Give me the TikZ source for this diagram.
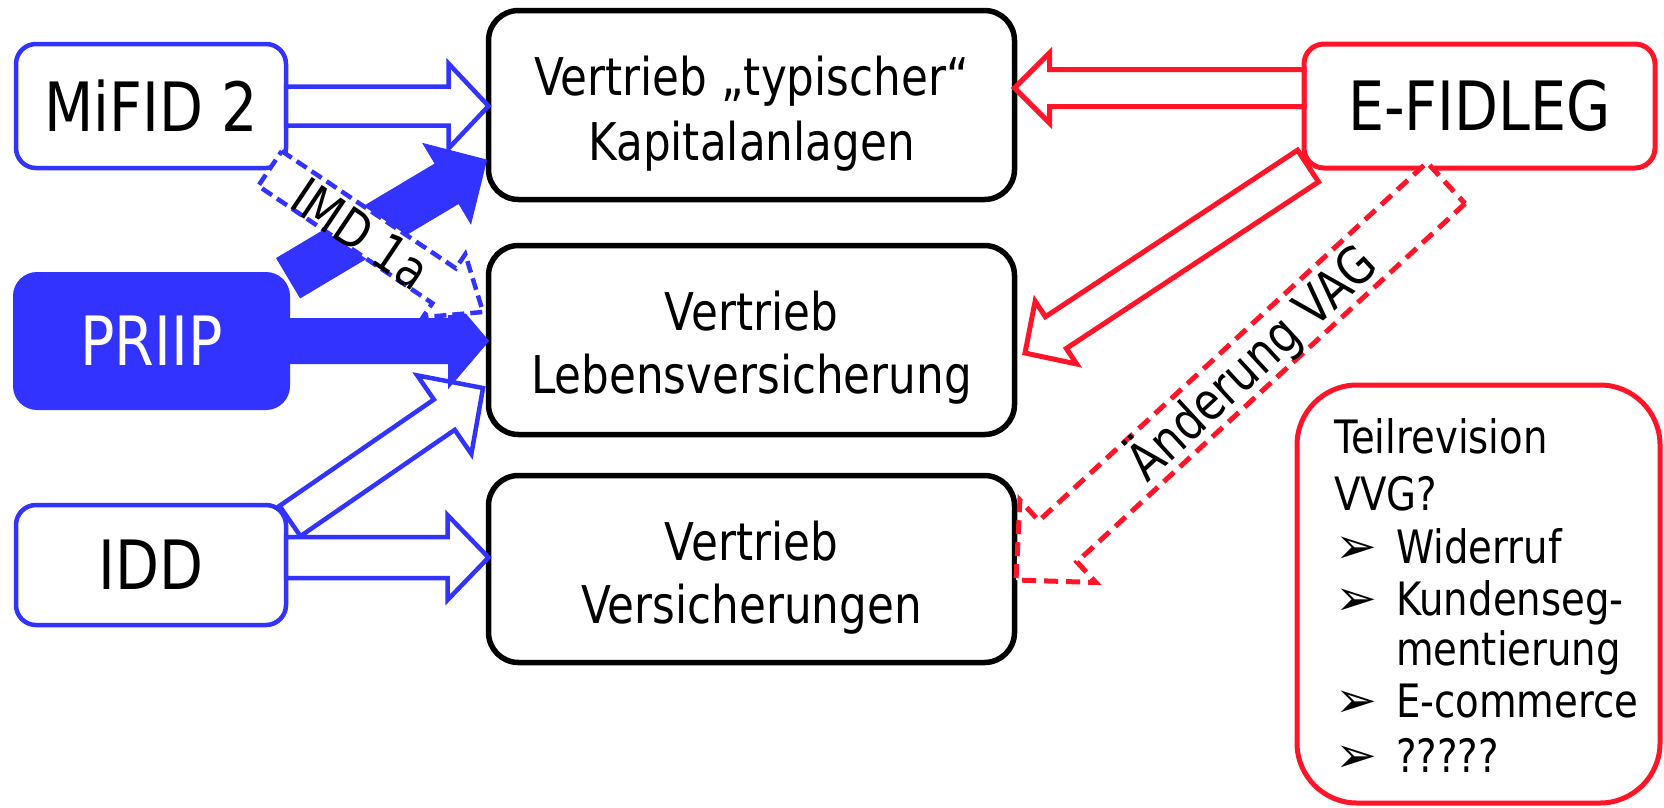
\documentclass[tikz,border=0pt]{standalone}
\usepackage{fontspec}
\setmainfont{DejaVu Sans}[FakeStretch=0.84]
\newfontfamily\dingfont{DejaVu Sans}
\usetikzlibrary{calc}
\definecolor{lawblue}{RGB}{51,51,255}
\definecolor{lawred}{RGB}{255,20,40}

% block arrow: [style]{tail}{tip}{shaft half width}{head half width}{head length}
\newcommand\blockarrow[6][]{%
  \coordinate (ba-t) at (#2);
  \coordinate (ba-h) at (#3);
  \coordinate (ba-b) at ($(ba-h)!#6!(ba-t)$);
  \draw[#1] ($(ba-t)!#4!90:(ba-h)$)
    -- ($(ba-b)!#4!90:(ba-h)$)
    -- ($(ba-b)!#5!90:(ba-h)$)
    -- (ba-h)
    -- ($(ba-b)!#5!-90:(ba-h)$)
    -- ($(ba-b)!#4!-90:(ba-h)$)
    -- ($(ba-t)!#4!-90:(ba-h)$)
    -- cycle;
}

\tikzset{
  every node/.style={inner sep=0pt, outer sep=0pt},
  targetbox/.style={draw=black, line width=5.5pt, rounded corners=30pt, minimum width=526pt, minimum height=189pt},
  bluebox/.style={draw=lawblue, line width=4.5pt, rounded corners=20pt, minimum width=270pt},
  priipbox/.style={fill=lawblue, rounded corners=24pt, minimum width=277pt, minimum height=138pt, text=white},
  redbox/.style={draw=lawred, line width=5pt},
  bigtext/.style={font=\fontsize{68}{80}\selectfont},
  midtext/.style={font=\fontsize{52}{62}\selectfont},
  listtext/.style={font=\fontsize{46}{54}\selectfont},
  bulletmark/.style={font=\dingfont\fontsize{50}{60}\selectfont},
  hollowblue/.style={draw=lawblue, line width=4.5pt, fill=white},
  solidblue/.style={draw=lawblue, line width=1pt, fill=lawblue},
  dashedblue/.style={draw=lawblue, line width=4.5pt, fill=white, dash pattern=on 12pt off 6pt},
  hollowred/.style={draw=lawred, line width=5pt, fill=white},
  dashedred/.style={draw=lawred, line width=5pt, fill=white, dash pattern=on 14pt off 8pt},
}

\begin{document}
\begin{tikzpicture}[x=1pt, y=-1pt]
\useasboundingbox (0,0) rectangle (1664,807);

% distribution channels
\node[targetbox] (kap) at (751.5,105) {};
\node[midtext, anchor=base] (kap-a) at (751.5,95) {Vertrieb „typischer“};
\node[midtext, anchor=base] (kap-b) at (751.5,160) {Kapitalanlagen};

\node[targetbox] (leben) at (751.5,340) {};
\node[midtext, anchor=base] (leben-a) at (751.5,330) {Vertrieb};
\node[midtext, anchor=base] (leben-b) at (751.5,393) {Lebensversicherung};

\node[targetbox, minimum height=187pt] (vers) at (751.5,569) {};
\node[midtext, anchor=base] (vers-a) at (751.5,560) {Vertrieb};
\node[midtext, anchor=base] (vers-b) at (751.5,623) {Versicherungen};

% EU rules
\node[bluebox, bigtext, minimum height=124pt] (mifid) at (151,106) {MiFID 2};
\node[priipbox, bigtext] (priip) at (151.5,341) {PRIIP};
\node[bluebox, bigtext, minimum height=120pt] (idd) at (151,565) {IDD};

% Swiss rules
\node[redbox, bigtext, rounded corners=20pt, minimum width=351pt, minimum height=124pt] (efid) at (1479.5,106) {E-FIDLEG};
\node[redbox, rounded corners=60pt, minimum width=363pt, minimum height=418pt] (teil) at (1478.5,594) {};
\node[listtext, anchor=base west] (teil-1) at (1334,453) {Teilrevision};
\node[listtext, anchor=base west] (teil-2) at (1334,510) {VVG?};
\node[bulletmark, anchor=base west] (teil-b1) at (1335,563) {➢};
\node[listtext, anchor=base west] (teil-3) at (1396,563) {Widerruf};
\node[bulletmark, anchor=base west] (teil-b2) at (1335,615) {➢};
\node[listtext, anchor=base west] (teil-4) at (1396,615) {Kundenseg-};
\node[listtext, anchor=base west] (teil-5) at (1396,665) {mentierung};
\node[bulletmark, anchor=base west] (teil-b3) at (1335,717) {➢};
\node[listtext, anchor=base west] (teil-6) at (1396,717) {E-commerce};
\node[bulletmark, anchor=base west] (teil-b4) at (1335,772) {➢};
\node[listtext, anchor=base west] (teil-7) at (1396,772) {?????};

% arrow end points on the boxes
\coordinate (idd-out) at ($(idd.east)+(0,-7.5)$);
\coordinate (efid-out) at ($(efid.west)+(0,-18)$);

% outlined arrows
\blockarrow[hollowblue]{mifid.east}{mifid.east -| kap.west}{19.5pt}{42.5pt}{40pt}
\blockarrow[hollowblue]{$(idd.north east)+(4,16)$}{$(leben.west)+(-5.5,48)$}{18.4pt}{47.7pt}{47pt}
\blockarrow[hollowblue]{idd-out}{idd-out -| vers.west}{20.5pt}{42.5pt}{41pt}
\blockarrow[hollowred]{efid-out}{efid-out -| kap.east}{18.5pt}{35pt}{35pt}
\blockarrow[hollowred]{$(efid.south west)+(4,-2)$}{$(leben.east)+(10.5,13)$}{19pt}{37.6pt}{37pt}

% filled arrows
\blockarrow[solidblue]{$(priip.north east)+(-1.5,6)$}{$(kap.west)+(-2,55)$}{23pt}{46.5pt}{46pt}
\blockarrow[solidblue]{priip.east}{priip.east -| leben.west}{22.5pt}{47pt}{40pt}

% dashed arrows with labels
\coordinate (imd-tail) at ($(mifid.south east)+(-16,0.5)$);
\coordinate (imd-tip) at ($(leben.north west)+(-5.5,66.5)$);
\blockarrow[dashedblue]{imd-tail}{imd-tip}{21pt}{38pt}{47pt}
\coordinate (imd-mid) at ($(imd-tail)!112pt!(imd-tip)$);
\node[midtext, rotate=-33.9] (imd-label) at ($(imd-mid)+(-2,3)$) {IMD 1a};

\coordinate (vag-tail) at ($(efid.south west)+(142,15)$);
\coordinate (vag-tip) at ($(vers.east)+(1.5,11)$);
\blockarrow[dashedred]{vag-tail}{vag-tip}{28pt}{56pt}{57pt}
\coordinate (vag-mid) at ($(vag-tail)!265pt!(vag-tip)$);
\node[midtext, rotate=42.7] (vag-label) at (vag-mid) {Änderung VAG};
\end{tikzpicture}
\end{document}
